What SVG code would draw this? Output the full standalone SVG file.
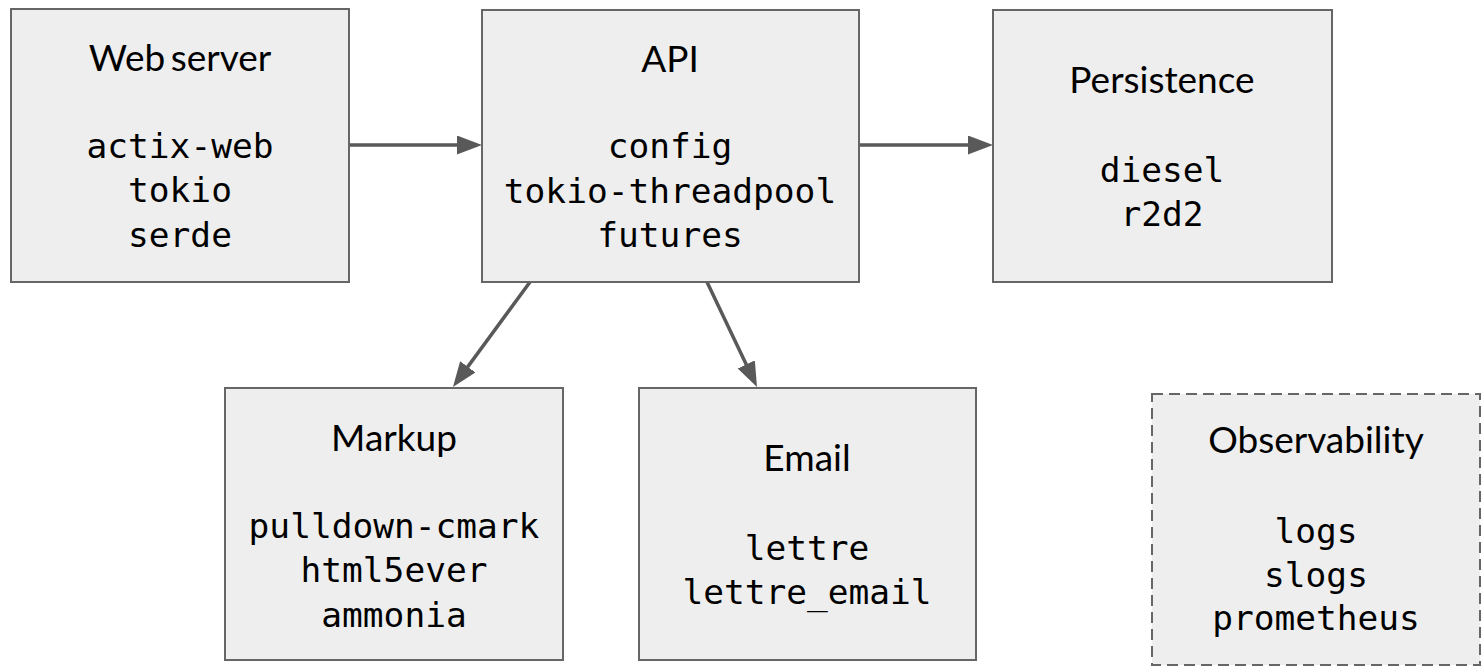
<svg xmlns="http://www.w3.org/2000/svg" width="1482" height="667" viewBox="0 0 1482 667">
<style>
.box{fill:#eeeeee;stroke:#666666;stroke-width:2}
.dash{stroke-dasharray:11 6}
.t{font-family:Lato,"Liberation Sans",sans-serif;font-size:37px;fill:#000;text-anchor:middle}
.m{font-family:"DejaVu Sans Mono","Liberation Mono",monospace;font-size:34.5px;fill:#000;text-anchor:middle}
.c{stroke:#595959;stroke-width:3.5;fill:none}
</style>
<defs>
<marker id="ah" markerUnits="userSpaceOnUse" markerWidth="26" markerHeight="20" refX="15" refY="9.5" orient="auto">
<path d="M0,0 L25,9.5 L0,19 z" fill="#595959"/>
</marker>
</defs>
<rect width="1482" height="667" fill="#ffffff"/>
<g id="connectors">
<line class="c" x1="349" y1="145" x2="472" y2="145" marker-end="url(#ah)"/>
<line class="c" x1="859" y1="145" x2="983" y2="145" marker-end="url(#ah)"/>
<line class="c" x1="530" y1="282" x2="458.9" y2="378.9" marker-end="url(#ah)"/>
<line class="c" x1="707" y1="282" x2="752.7" y2="378" marker-end="url(#ah)"/>
</g>
<g id="webserver">
<rect class="box" x="11" y="9" width="338" height="273"/>
<text class="t" x="180" y="71" word-spacing="-4">Web server</text>
<text class="m" x="180" y="158">actix-web</text>
<text class="m" x="180" y="202">tokio</text>
<text class="m" x="180" y="247">serde</text>
</g>
<g id="api">
<rect class="box" x="482" y="10" width="377" height="272"/>
<text class="t" x="670" y="72">API</text>
<text class="m" x="670" y="158">config</text>
<text class="m" x="670" y="203">tokio-threadpool</text>
<text class="m" x="670" y="247">futures</text>
</g>
<g id="persistence">
<rect class="box" x="993" y="10" width="339" height="272"/>
<text class="t" x="1162" y="93">Persistence</text>
<text class="m" x="1162" y="182">diesel</text>
<text class="m" x="1162" y="226">r2d2</text>
</g>
<g id="markup">
<rect class="box" x="225" y="388" width="338" height="272"/>
<text class="t" x="394" y="451">Markup</text>
<text class="m" x="394" y="538">pulldown-cmark</text>
<text class="m" x="394" y="582">html5ever</text>
<text class="m" x="394" y="627">ammonia</text>
</g>
<g id="email">
<rect class="box" x="639" y="388" width="337" height="272"/>
<text class="t" x="807" y="471">Email</text>
<text class="m" x="807" y="560">lettre</text>
<text class="m" x="807" y="604">lettre_email</text>
</g>
<g id="observability">
<rect class="box dash" x="1152" y="394" width="328" height="271"/>
<text class="t" x="1316" y="453">Observability</text>
<text class="m" x="1316" y="543">logs</text>
<text class="m" x="1316" y="587">slogs</text>
<text class="m" x="1316" y="630">prometheus</text>
</g>
</svg>
